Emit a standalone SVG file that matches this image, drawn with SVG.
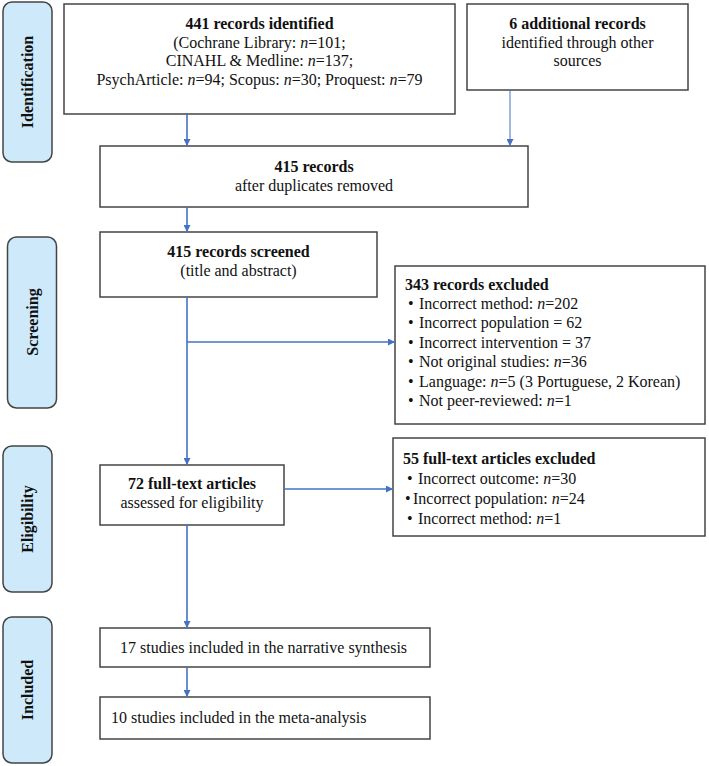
<svg xmlns="http://www.w3.org/2000/svg" width="709" height="766" viewBox="0 0 709 766">
<style>
text{font-family:"Liberation Serif","Times New Roman",serif;font-size:16px;fill:#111}
.b{font-weight:bold}
.c{text-anchor:middle}
.i{font-style:italic}
.box{fill:#fff;stroke:#444;stroke-width:1.5}
.side{fill:#cde9fa;stroke:#444;stroke-width:1.5}
.lab{font-weight:bold;text-anchor:middle;font-size:16px}
.con{stroke:#4472c4;stroke-width:1.6;fill:none}
</style>
<defs>
<marker id="ah" viewBox="0 0 10 10" refX="10" refY="5" markerWidth="7" markerHeight="7" markerUnits="userSpaceOnUse" orient="auto">
<path d="M0,0 L10,5 L0,10 z" fill="#4472c4"/>
</marker>
</defs>
<g id="side-identification"><rect class="side" x="3" y="2" width="49" height="160" rx="9"/><text class="lab" transform="translate(33,82) rotate(-90)">Identification</text></g>
<g id="side-screening"><rect class="side" x="7.5" y="237" width="49" height="171" rx="9"/><text class="lab" transform="translate(38,322) rotate(-90)">Screening</text></g>
<g id="side-eligibility"><rect class="side" x="3" y="446" width="49" height="146" rx="9"/><text class="lab" transform="translate(33,519) rotate(-90)">Eligibility</text></g>
<g id="side-included"><rect class="side" x="3" y="617" width="49" height="146" rx="9"/><text class="lab" transform="translate(33,690) rotate(-90)">Included</text></g>

<g id="n-identified"><rect class="box" x="64" y="4" width="391" height="110"/>
<text class="c b" x="259.5" y="29">441 records identified</text>
<text class="c" x="259.5" y="48">(Cochrane Library: <tspan class="i">n</tspan>=101;</text>
<text class="c" x="259.5" y="66">CINAHL &amp; Medline: <tspan class="i">n</tspan>=137;</text>
<text class="c" x="259.5" y="85">PsychArticle: <tspan class="i">n</tspan>=94; Scopus: <tspan class="i">n</tspan>=30; Proquest: <tspan class="i">n</tspan>=79</text></g>

<g id="n-additional"><rect class="box" x="467" y="4" width="221" height="86"/>
<text class="c b" x="577.5" y="29">6 additional records</text>
<text class="c" x="577.5" y="48">identified through other</text>
<text class="c" x="577.5" y="66">sources</text></g>

<g id="n-dedup"><rect class="box" x="100" y="146" width="428" height="61"/>
<text class="c b" x="314" y="172">415 records</text>
<text class="c" x="314" y="191">after duplicates removed</text></g>

<g id="n-screened"><rect class="box" x="100" y="232" width="277" height="65"/>
<text class="c b" x="238.5" y="257">415 records screened</text>
<text class="c" x="238.5" y="276">(title and abstract)</text></g>

<g id="n-excluded1"><rect class="box" x="395" y="266" width="310" height="158"/>
<text class="b" x="405" y="290">343 records excluded</text>
<text x="408" y="309">•</text><text x="419" y="309">Incorrect method: <tspan class="i">n</tspan>=202</text>
<text x="408" y="328">•</text><text x="419" y="328">Incorrect population = 62</text>
<text x="408" y="348">•</text><text x="419" y="348">Incorrect intervention = 37</text>
<text x="408" y="367">•</text><text x="419" y="367">Not original studies: <tspan class="i">n</tspan>=36</text>
<text x="408" y="387">•</text><text x="419" y="387">Language: <tspan class="i">n</tspan>=5 (3 Portuguese, 2 Korean)</text>
<text x="408" y="406">•</text><text x="419" y="406">Not peer-reviewed: <tspan class="i">n</tspan>=1</text></g>

<g id="n-fulltext"><rect class="box" x="100" y="465" width="184" height="60"/>
<text class="c b" x="192" y="489">72 full-text articles</text>
<text class="c" x="192" y="508">assessed for eligibility</text></g>

<g id="n-excluded2"><rect class="box" x="393" y="438" width="312" height="98"/>
<text class="b" x="403" y="464">55 full-text articles excluded</text>
<text x="407" y="484">•</text><text x="418" y="484">Incorrect outcome: <tspan class="i">n</tspan>=30</text>
<text x="405" y="504">•</text><text x="413" y="504">Incorrect population: <tspan class="i">n</tspan>=24</text>
<text x="407" y="524">•</text><text x="418" y="524">Incorrect method: <tspan class="i">n</tspan>=1</text></g>

<g id="n-narrative"><rect class="box" x="100" y="628" width="330" height="39"/>
<text x="120" y="653">17 studies included in the narrative synthesis</text></g>

<g id="n-meta"><rect class="box" x="100" y="697" width="330" height="42"/>
<text x="111" y="723">10 studies included in the meta-analysis</text></g>

<g id="connectors">
<line class="con" x1="187" y1="114" x2="187" y2="146" marker-end="url(#ah)"/>
<line class="con" x1="510" y1="90" x2="510" y2="146" marker-end="url(#ah)" style="stroke-width:1"/>
<line class="con" x1="187" y1="207" x2="187" y2="232" marker-end="url(#ah)"/>
<line class="con" x1="187" y1="297" x2="187" y2="465" marker-end="url(#ah)"/>
<line class="con" x1="187" y1="342" x2="395" y2="342" marker-end="url(#ah)"/>
<line class="con" x1="284" y1="489" x2="393" y2="489" marker-end="url(#ah)"/>
<line class="con" x1="187" y1="525" x2="187" y2="628" marker-end="url(#ah)"/>
<line class="con" x1="187" y1="667" x2="187" y2="697" marker-end="url(#ah)"/>
</g>
</svg>
